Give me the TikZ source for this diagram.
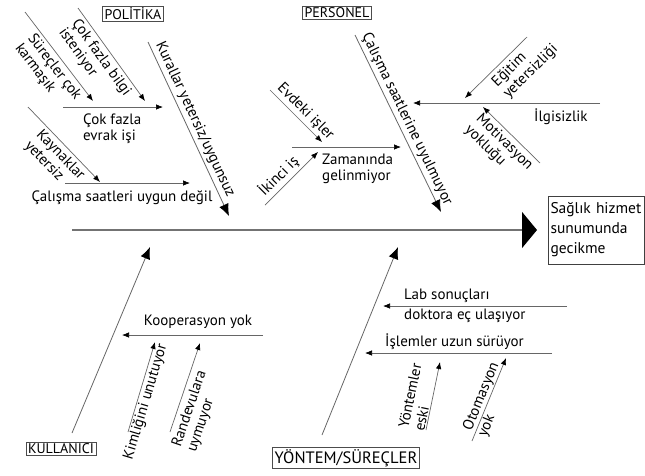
\documentclass[tikz,border=0pt]{standalone}
\usepackage{fontspec}
\setmainfont{PT Sans}
\usetikzlibrary{arrows.meta}
\begin{document}
\begin{tikzpicture}[x=1pt,y=-1pt,
  bone/.style={draw=black!60, line width=0.7pt, -{Latex[length=7pt,width=5.5pt,color=black]}},
  mainbone/.style={draw=black!60, line width=0.8pt, -{Latex[length=12pt,width=10pt,color=black]}},
  spine/.style={draw=black!55, line width=1.4pt, -{Triangle[length=15pt,width=36pt,color=black]}},
  lbl/.style={font=\fontsize{15}{16}\selectfont, inner sep=1pt, align=left},
  catbox/.style={draw=black!70, line width=0.8pt, font=\fontsize{14}{16}\selectfont, inner xsep=2pt, inner ysep=1.5pt},
  effect/.style={draw=black!75, line width=1pt, minimum width=96, minimum height=68, text width=92pt, inner xsep=2pt, align=left, font=\fontsize{15.5}{20}\selectfont},
]
\useasboundingbox (0,0) rectangle (645,475);

% spine and effect
\coordinate (sp0) at (72,230);
\coordinate (sp1) at (537,230);
\draw[spine] (sp0) -- (sp1);
\node[effect] (eff) at (596.5,230) {Sağlık hizmet\\sunumunda\\gecikme};

% POLITIKA
\node[catbox] (polcat) at (133,14) {POLİTİKA};
\coordinate (pol0) at (148,42); \coordinate (pol1) at (229,216);
\draw[mainbone] (pol0) -- node[lbl, sloped, above=1.5pt, pos=0.47] {Kurallar yetersiz/uygunsuz} (pol1);

\coordinate (ev0) at (63,107); \coordinate (ev1) at (163,107);
\draw[bone] (ev0) -- (ev1);
\node[lbl, anchor=north west] (evl) at (82,113) {Çok fazla\\evrak işi};

\coordinate (sc0) at (25,12); \coordinate (sc1) at (93,101);
\draw[bone] (sc0) -- node[lbl, sloped, below=2pt, pos=0.55] {Süreçler çok\\karmaşık} (sc1);

\coordinate (cb0) at (78,8); \coordinate (cb1) at (145,101);
\draw[bone] (cb0) -- node[lbl, sloped, below=2pt, pos=0.47] {Çok fazla bilgi\\isteniyor} (cb1);

\coordinate (ws0) at (65,183); \coordinate (ws1) at (190,183);
\draw[bone] (ws0) -- (ws1);
\node[lbl, anchor=north] (wsl) at (122,189) {Çalışma saatleri uygun değil};

\coordinate (ky0) at (28,107); \coordinate (ky1) at (100,182);
\draw[bone] (ky0) -- node[lbl, sloped, below=2pt, pos=0.55] {Kaynaklar\\yetersiz} (ky1);

% PERSONEL
\node[catbox] (percat) at (337,13) {PERSONEL};
\coordinate (per0) at (355,35); \coordinate (per1) at (441,212);
\draw[mainbone] (per0) -- node[lbl, sloped, above=1.5pt, pos=0.5] {Çalışma saatlerine uyulmuyor} (per1);

\coordinate (zm0) at (292,147); \coordinate (zm1) at (401,147);
\draw[bone] (zm0) -- (zm1);
\node[lbl, anchor=north west] (zml) at (321,153) {Zamanında\\gelinmiyor};

\coordinate (ed0) at (270,90); \coordinate (ed1) at (322,142);
\draw[bone] (ed0) -- node[lbl, sloped, above=1.5pt, pos=0.55] {Evdeki işler} (ed1);

\coordinate (ik0) at (265,205); \coordinate (ik1) at (318,152);
\draw[bone] (ik0) -- node[lbl, sloped, above=1.5pt, pos=0.4] {İkinci iş} (ik1);

\coordinate (il0) at (600,103); \coordinate (il1) at (413,103);
\draw[bone] (il0) -- (il1);
\node[lbl, anchor=north west] (ill) at (533,108) {İlgisizlik};

\coordinate (eg0) at (527,37); \coordinate (eg1) at (465,98);
\draw[bone] (eg0) -- node[lbl, sloped, below=3pt, pos=0.25] {Eğitim\\yetersizliği} (eg1);

\coordinate (mo0) at (540,163); \coordinate (mo1) at (483,107);
\draw[bone] (mo0) -- node[lbl, sloped, below=2pt, pos=0.5] {Motivasyon\\yokluğu} (mo1);

% KULLANICI
\node[catbox] (kulcat) at (61,449) {KULLANICI};
\coordinate (ku0) at (72,433); \coordinate (ku1) at (150,247);
\draw[mainbone] (ku0) -- (ku1);

\coordinate (ko0) at (263,335); \coordinate (ko1) at (122,335);
\draw[bone] (ko0) -- (ko1);
\node[lbl, anchor=south] (kol) at (198,330) {Kooperasyon yok};

\coordinate (km0) at (128,432); \coordinate (km1) at (155,342);
\draw[bone] (km0) -- node[lbl, sloped, below, pos=0.36] {Kimliğini unutuyor} (km1);

\coordinate (rv0) at (170,432); \coordinate (rv1) at (200,343);
\draw[bone] (rv0) -- node[lbl, sloped, below=3pt, pos=0.3] {Randevulara\\uymuyor} (rv1);

% YONTEM/SURECLER
\node[catbox, font=\fontsize{16.5}{18}\selectfont] (yoncat) at (346,458) {YÖNTEM/SÜREÇLER};
\coordinate (yo0) at (322,435); \coordinate (yo1) at (398,247);
\draw[mainbone] (yo0) -- (yo1);

\coordinate (lb0) at (567,306); \coordinate (lb1) at (383,306);
\draw[bone] (lb0) -- (lb1);
\node[lbl, anchor=south west] (lba) at (403,304) {Lab sonuçları};
\node[lbl, anchor=north west] (lbb) at (403,308) {doktora eç ulaşıyor};

\coordinate (is0) at (552,353); \coordinate (is1) at (365,353);
\draw[bone] (is0) -- (is1);
\node[lbl, anchor=south west] (isl) at (384,351) {İşlemler uzun sürüyor};

\coordinate (ye0) at (426,430); \coordinate (ye1) at (440,362);
\draw[bone] (ye0) -- node[lbl, sloped, above, pos=0.44] {Yöntemler\\eski} (ye1);

\coordinate (ot0) at (472,441); \coordinate (ot1) at (506,358);
\draw[bone] (ot0) -- node[lbl, sloped, pos=0.5] {Otomasyon\\yok} (ot1);
\end{tikzpicture}
\end{document}
